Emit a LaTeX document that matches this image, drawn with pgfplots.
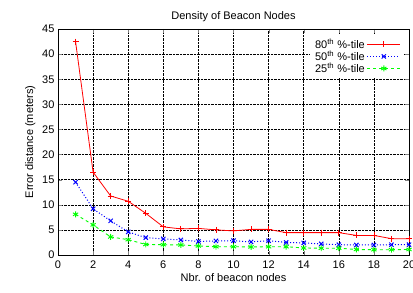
\documentclass[border=0pt]{standalone}
\usepackage{fontspec}
\setmainfont{Liberation Sans}
\usepackage{pgfplots}
\pgfplotsset{compat=1.18}
\begin{document}
\begin{tikzpicture}
\begin{axis}[
  scale only axis, width=351pt, height=226pt,
  xmin=0, xmax=20, ymin=0, ymax=45,
  xtick={0,2,...,20}, ytick={0,5,...,45},
  tick align=inside, major tick length=4pt,
  grid=major, grid style={black, densely dotted, line width=0.5pt},
  axis line style={black, line width=0.8pt},
  font=\fontsize{11}{13}\selectfont,
  /pgf/number format/assume math mode=true,
  title={Density of Beacon Nodes},
  title style={yshift=-2pt},
  xlabel={Nbr. of beacon nodes},
  ylabel={Error distance (meters)},
  xticklabel style={yshift=-2pt},
  xlabel style={yshift=2pt},
  legend style={at={(0.985,0.975)}, anchor=north east, draw=none, fill=white,
    cells={anchor=east}, row sep=-3pt, font=\fontsize{11}{11}\selectfont},
  legend plot pos=right,
  legend image code/.code={\draw[mark repeat=2,mark phase=2,#1] plot coordinates {(0cm,0cm)(0.58cm,0cm)(1.15cm,0cm)};},
]
\addplot[red, solid, line width=0.8pt, mark=+, mark size=3pt, mark options={red, solid}] coordinates {
(1,42.5)(2,16.5)(3,11.75)(4,10.7)(5,8.3)(6,5.6)(7,5.2)(8,5.3)(9,5.0)(10,4.8)
(11,5.1)(12,5.1)(13,4.45)(14,4.45)(15,4.45)(16,4.45)(17,3.9)(18,3.9)(19,3.25)(20,3.25)};
\addlegendentry{80\textsuperscript{th} \%-tile}
\addplot[blue, dotted, line width=1pt, mark=x, mark size=3pt, mark options={blue, solid}] coordinates {
(1,14.5)(2,9.2)(3,6.8)(4,4.6)(5,3.45)(6,3.2)(7,3.0)(8,2.7)(9,2.8)(10,2.85)
(11,2.6)(12,2.85)(13,2.5)(14,2.4)(15,2.2)(16,2.05)(17,2.0)(18,2.0)(19,2.05)(20,2.05)};
\addlegendentry{50\textsuperscript{th} \%-tile}
\addplot[green, dashed, line width=0.9pt, mark=asterisk, mark size=3pt, mark options={green, solid}] coordinates {
(1,8.1)(2,6.0)(3,3.6)(4,3.05)(5,2.1)(6,2.05)(7,2.0)(8,1.8)(9,1.65)(10,1.65)
(11,1.6)(12,1.65)(13,1.65)(14,1.4)(15,1.35)(16,1.35)(17,1.1)(18,1.05)(19,1.05)(20,1.1)};
\addlegendentry{25\textsuperscript{th} \%-tile}
\end{axis}
\pgfresetboundingbox
\path (current axis.south west) ++(-58pt,-38pt) coordinate (bbA);
\path (current axis.north east) ++(4pt,29pt) coordinate (bbB);
\useasboundingbox (bbA) rectangle (bbB);
\end{tikzpicture}
\end{document}
